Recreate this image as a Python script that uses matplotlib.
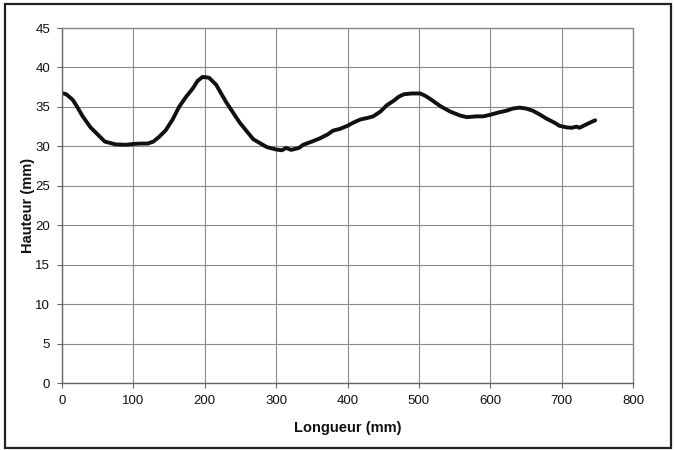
import matplotlib
matplotlib.use("Agg")
import matplotlib.pyplot as plt
from matplotlib.patches import Rectangle

plt.rcParams['font.family'] = ['Liberation Sans', 'DejaVu Sans']

# Profil mesuré : longueur (mm) et hauteur (mm)
longueur = [0, 6, 15, 20, 29, 40, 50, 60, 75, 90, 100, 110, 120, 128, 136, 145,
            155, 164, 174, 183, 190, 197, 206, 216, 230, 249, 268, 287, 300,
            308, 314, 321, 332, 338, 350, 361, 372, 380, 389, 400, 408, 418,
            428, 436, 446, 455, 465, 472, 479, 490, 502, 509, 516, 530, 544,
            558, 567, 581, 590, 600, 612, 622, 632, 641, 650, 660, 670, 679,
            690, 697, 707, 714, 721, 725, 735, 742, 747]
hauteur = [36.75, 36.6, 35.9, 35.2, 33.8, 32.4, 31.5, 30.6, 30.25, 30.2, 30.3,
           30.35, 30.35, 30.6, 31.2, 32.0, 33.4, 35.0, 36.3, 37.3, 38.3, 38.8,
           38.7, 37.8, 35.6, 33.0, 30.9, 29.9, 29.6, 29.5, 29.8, 29.55, 29.8,
           30.2, 30.6, 31.0, 31.5, 32.0, 32.2, 32.6, 33.0, 33.4, 33.6, 33.8,
           34.4, 35.2, 35.8, 36.3, 36.6, 36.7, 36.7, 36.4, 36.0, 35.1, 34.4,
           33.9, 33.7, 33.8, 33.8, 34.0, 34.3, 34.5, 34.8, 34.9, 34.8, 34.5,
           34.0, 33.5, 33.0, 32.6, 32.4, 32.35, 32.5, 32.35, 32.8, 33.1, 33.3]

x_ticks = [0, 100, 200, 300, 400, 500, 600, 700, 800]
y_ticks = [0, 5, 10, 15, 20, 25, 30, 35, 40, 45]

fig = plt.figure(figsize=(6.75, 4.5), dpi=100)
fig.patch.set_facecolor('white')

# cadre extérieur du graphique
fig.patches.append(Rectangle((5 / 675, 2 / 450), 666 / 675, 444 / 450,
                             transform=fig.transFigure, fill=False,
                             edgecolor='#222222', linewidth=1.6))

ax = fig.add_axes([62 / 675, 1 - 383 / 450, 571 / 675, 355 / 450])
ax.plot(longueur, hauteur, color='#111111', linewidth=2.8,
        solid_capstyle='round', solid_joinstyle='round')

ax.set_xlim(0, 800)
ax.set_ylim(0, 45)
ax.set_xticks(x_ticks)
ax.set_yticks(y_ticks)
ax.tick_params(axis='both', labelsize=9.5, length=3.5, width=0.8,
               color='#666666', direction='out', labelcolor='#111111')
ax.tick_params(axis='x', pad=5.5)
ax.tick_params(axis='y', pad=5)

ax.grid(True, color='#8a8a8a', linewidth=0.8)
ax.set_axisbelow(True)

for side in ('left', 'bottom'):
    ax.spines[side].set_color('#666666')
    ax.spines[side].set_linewidth(1.0)
for side in ('top', 'right'):
    ax.spines[side].set_color('#888888')
    ax.spines[side].set_linewidth(1.0)
    ax.spines[side].set_linestyle((0, (1, 1)))

ax.set_xlabel('Longueur (mm)', fontsize=10.5, fontweight='bold', labelpad=10,
              color='#111111')
ax.set_ylabel('Hauteur (mm)', fontsize=10.5, fontweight='bold', labelpad=0,
              color='#111111')

fig.savefig('out.png', dpi=100)
